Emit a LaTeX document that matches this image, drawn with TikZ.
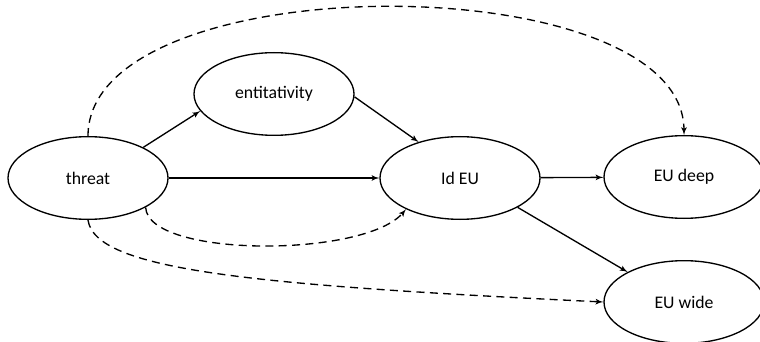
\documentclass[tikz,border=0pt]{standalone}
\usepackage{fontspec}
\setmainfont{Carlito}
\usepackage{tikz}
\usetikzlibrary{arrows}
\usetikzlibrary{shapes.geometric}
\tikzstyle{var} = [draw,ellipse,line width=1pt,inner sep=0pt,minimum width=120pt,minimum height=62pt,font=\fontsize{13.3}{16}\selectfont]
\tikzstyle{connector} = [->,line width=1pt]
\tikzstyle{dashconnector} = [connector,dash pattern=on 6pt off 4pt]

\begin{document}
\begin{tikzpicture}[x=0.75pt, y=-0.75pt, >=latex']
    \useasboundingbox (0,0) rectangle (760,342);
    % node placement at pixel coordinates
    \node[var] (threat) at (88,178) {threat};
    \node[var] (entit) at (274,94) {entitativity};
    \node[var] (ideu) at (460,178) {Id EU};
    \node[var] (eudeep) at (684,177) {EU deep};
    \node[var] (euwide) at (684,302) {EU wide};

    % now link the nodes
    \draw [connector] (threat.29) -- (entit.-167);
    \draw [connector] (threat) -- (ideu);
    \draw [connector] (entit.-2) -- (ideu.139);
    \draw [connector] (ideu) -- (eudeep);
    \draw [connector] (ideu.-27) -- (euwide.152);

    % dashed paths round the middle
    \draw [dashconnector] (threat.north) .. controls (88,-36) and (684,-36) .. (eudeep.north);
    \draw [dashconnector] (threat.-27) .. controls (148,258) and (365,258) .. (ideu.-150);
    \draw [dashconnector] (threat.south) .. controls (95,270) and (250,285) .. (euwide.west);
\end{tikzpicture}
\end{document}
